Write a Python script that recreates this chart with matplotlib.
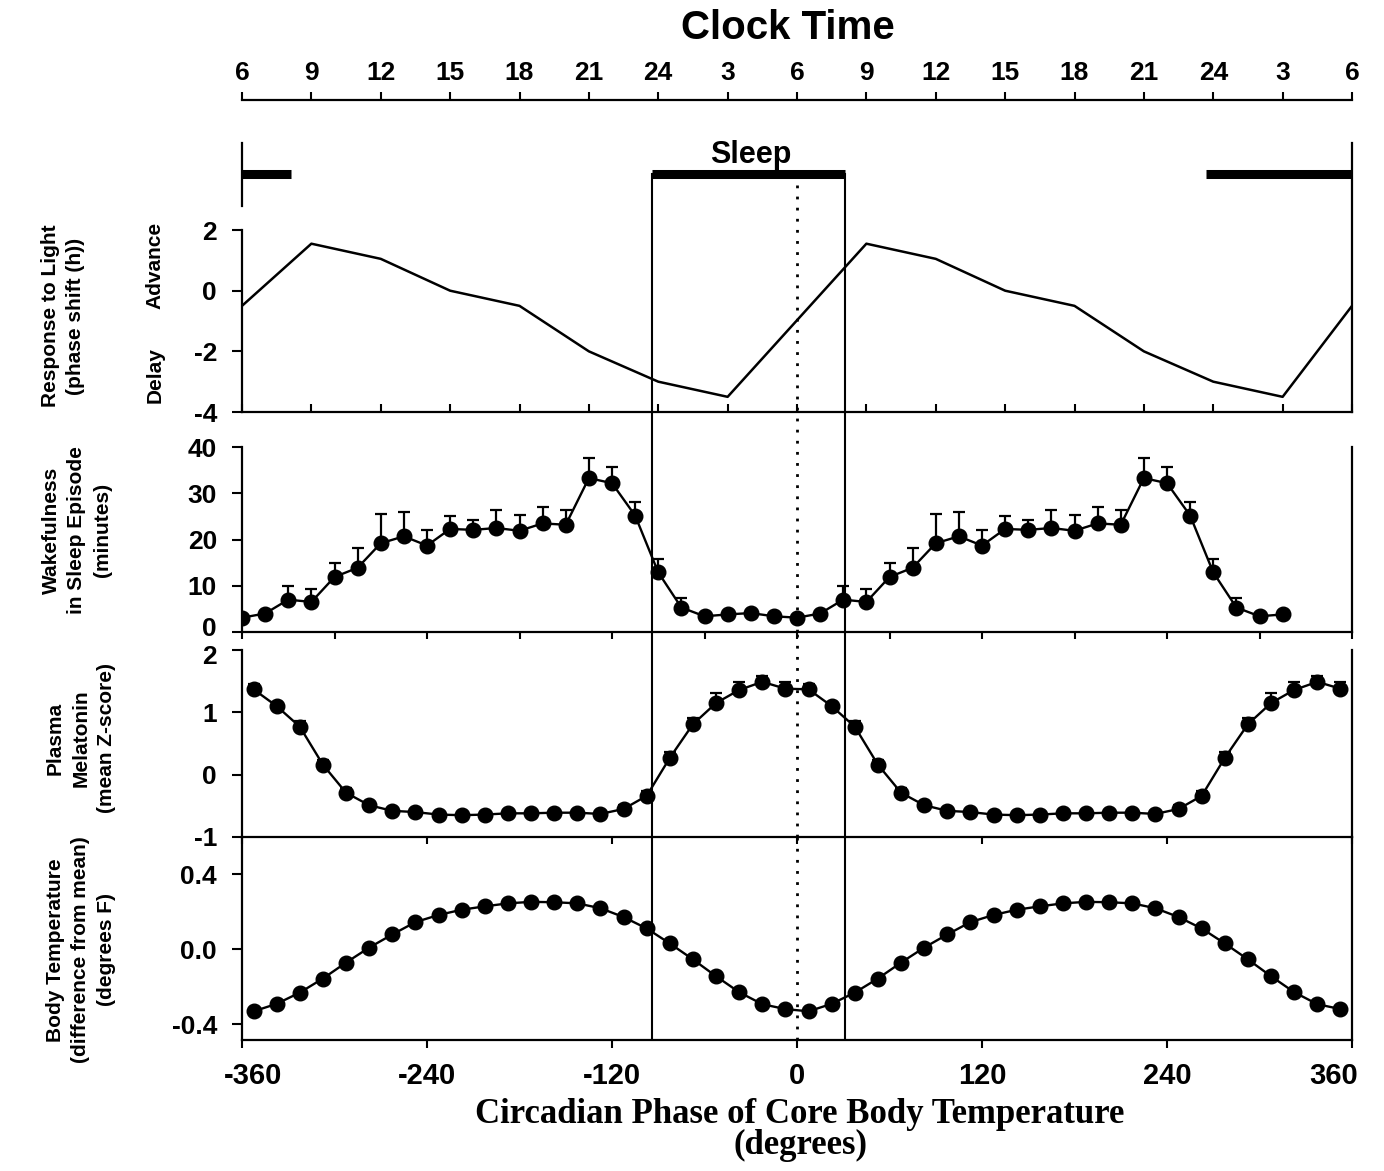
import matplotlib.pyplot as plt
from matplotlib.transforms import ScaledTranslation

# ---- data ----
# response to light (phase shift, h); vertices every 45 deg, double plotted
prc_phase = [-360, -315, -270, -225, -180, -135, -90, -45,
             45, 90, 135, 180, 225, 270, 315, 360]
prc_shift = [-0.5, 1.55, 1.05, 0.0, -0.5, -2.0, -3.0, -3.5,
             1.55, 1.05, 0.0, -0.5, -2.0, -3.0, -3.5, -0.5]

# wakefulness in sleep episode (minutes), one cycle, 15 deg bins
wake_phase = [-360, -345, -330, -315, -300, -285, -270, -255, -240, -225, -210, -195,
              -180, -165, -150, -135, -120, -105, -90, -75, -60, -45, -30, -15]
wake_min = [3.1, 4.0, 7.0, 6.5, 11.9, 13.9, 19.2, 20.7, 18.7, 22.3, 22.1, 22.5,
            21.9, 23.5, 23.2, 33.3, 32.2, 25.2, 12.9, 5.3, 3.4, 3.8, 4.1, 3.4]
wake_err = [0.0, 0.0, 2.9, 2.7, 3.1, 4.3, 6.3, 5.2, 3.4, 2.9, 2.2, 4.0,
            3.5, 3.6, 3.1, 4.3, 3.6, 2.9, 2.9, 2.0, 0.4, 0.4, 0.4, 0.4]
wake_second_n = 22  # second cycle stops at 315 deg

# plasma melatonin (mean z-score), one cycle
mel_phase = [-352.5, -337.5, -322.5, -307.5, -292.5, -277.5, -262.5, -247.5,
             -232.5, -217.5, -202.5, -187.5, -172.5, -157.5, -142.5, -127.5,
             -112.5, -97.5, -82.5, -67.5, -52.5, -37.5, -22.5, -7.5]
mel_z = [1.37, 1.10, 0.77, 0.16, -0.29, -0.49, -0.58, -0.60, -0.64, -0.65, -0.64, -0.62,
         -0.62, -0.61, -0.61, -0.63, -0.55, -0.34, 0.27, 0.81, 1.15, 1.36, 1.49, 1.38]
mel_err = [0.08, 0.07, 0.09, 0.07, 0.07, 0.03, 0.03, 0.03, 0.03, 0.03, 0.03, 0.03,
           0.03, 0.03, 0.03, 0.03, 0.06, 0.08, 0.10, 0.10, 0.16, 0.12, 0.10, 0.10]

# body temperature (difference from mean, deg F), one cycle
temp_phase = mel_phase
temp_f = [-0.33, -0.29, -0.23, -0.155, -0.07, 0.01, 0.08, 0.146, 0.184, 0.212, 0.23, 0.246,
          0.254, 0.252, 0.246, 0.22, 0.173, 0.112, 0.032, -0.053, -0.143, -0.228, -0.292, -0.318]

clock_labels = ["6", "9", "12", "15", "18", "21", "24", "3", "6",
                "9", "12", "15", "18", "21", "24", "3", "6"]
sleep_start, sleep_end = -94, 31


def double(xs, ys, n2=None):
    n2 = len(xs) if n2 is None else n2
    return list(xs) + [x + 360 for x in xs[:n2]], list(ys) + list(ys[:n2])


plt.rcParams['font.family'] = ['Liberation Sans', 'DejaVu Sans']
plt.rcParams['axes.unicode_minus'] = False
label_font = dict(family=['Liberation Sans', 'DejaVu Sans'], weight='bold', size=15)

fig = plt.figure(figsize=(13.84, 11.71), dpi=100)
L, W = 242 / 1384, 1110 / 1384


def fy(px):
    return 1 - px / 1171


def shift(label, dx_px, dy_px):
    label.set_transform(label.get_transform() +
                        ScaledTranslation(dx_px / 100, dy_px / 100, fig.dpi_scale_trans))


def panel(top, bottom):
    ax = fig.add_axes([L, fy(bottom), W, fy(top) - fy(bottom)])
    ax.set_xlim(-360, 360)
    ax.spines['top'].set_visible(False)
    for s in ax.spines.values():
        s.set_linewidth(1.6)
    ax.tick_params(axis='y', direction='out', length=7, width=1.5, pad=11, labelsize=19)
    ax.tick_params(axis='x', width=1.5)
    ax.patch.set_alpha(0)
    return ax


def bold_labels(ax):
    for t in ax.get_xticklabels() + ax.get_yticklabels():
        t.set_fontweight('bold')


ax1 = panel(143, 412)
ax2 = panel(412, 632)
ax3 = panel(632, 837)
ax4 = panel(837, 1040)

# panel 1: response to light
ax1.set_ylim(-4, 4.87)
ax1.set_yticks([-4, -2, 0, 2])
ax1.spines['left'].set_bounds(-4, 2)
ax1.plot(prc_phase, prc_shift, color='k', lw=1.8)
ax1.set_xticks(range(-360, 361, 45))
ax1.tick_params(axis='x', direction='in', length=6, labelbottom=False)
ax1.plot([-360, -360], [2.79, 4.87], color='k', lw=1.6, clip_on=False)
bar_y = 3.85
for a, b in [(-360, -328), (sleep_start, sleep_end), (265, 360)]:
    ax1.plot([a, b], [bar_y, bar_y], color='k', lw=6.5, solid_capstyle='butt', clip_on=False)
ax1.text(-30, 4.47, "Sleep", ha='center', va='center', fontsize=22, fontweight='bold')
ax1.plot([sleep_start, sleep_start], [bar_y, -4], color='k', lw=1.5)
ax1.plot([sleep_end, sleep_end], [bar_y, -4], color='k', lw=1.5)
ax1.plot([0, 0], [3.5, -4], color='k', lw=2, ls=(0, (1, 3)))

# panel 2: wakefulness
wx, wy = double(wake_phase, wake_min, wake_second_n)
_, we = double(wake_phase, wake_err, wake_second_n)
ax2.set_ylim(0, 47.6)
ax2.set_yticks([0, 10, 20, 30, 40])
ax2.spines['left'].set_bounds(0, 40)
ax2.spines['right'].set_bounds(0, 40)
ax2.errorbar(wx, wy, yerr=[[0] * len(we), we], fmt='none', ecolor='k',
             elinewidth=1.6, capsize=4.5, capthick=1.6, zorder=2)
ax2.plot(wx, wy, 'o-', color='k', lw=1.7, ms=10.5, zorder=3)
ax2.set_xticks(range(-360, 361, 60))
ax2.tick_params(axis='x', direction='out', length=5, labelbottom=False)

# panel 3: melatonin
mx, my = double(mel_phase, mel_z)
_, me = double(mel_phase, mel_err)
ax3.set_ylim(-1, 2.29)
ax3.set_yticks([-1, 0, 1, 2])
ax3.spines['left'].set_bounds(-1, 2)
ax3.spines['right'].set_bounds(-1, 2)
ax3.errorbar(mx, my, yerr=[[0] * len(me), me], fmt='none', ecolor='k',
             elinewidth=1.6, capsize=4.5, capthick=1.6, zorder=2)
ax3.plot(mx, my, 'o-', color='k', lw=1.7, ms=10.5, zorder=3)
ax3.set_xticks(range(-360, 361, 120))
ax3.tick_params(axis='x', direction='out', length=5, labelbottom=False)

# panel 4: body temperature
tx, ty = double(temp_phase, temp_f)
ax4.set_ylim(-0.483, 0.6)
ax4.set_yticks([-0.4, 0.0, 0.4])
ax4.set_yticklabels(["-0.4", "0.0", "0.4"])
ax4.plot(tx, ty, 'o-', color='k', lw=1.7, ms=10.5, zorder=3)
ax4.set_xticks(range(-360, 361, 120))
ax4.tick_params(axis='x', direction='out', length=6, pad=10, labelsize=21)

for ax in (ax1, ax2, ax3, ax4):
    bold_labels(ax)
for ax in (ax2, ax3, ax4):
    ax.axvline(sleep_start, color='k', lw=1.5)
    ax.axvline(sleep_end, color='k', lw=1.5)
    ax.axvline(0, color='k', lw=2, ls=(0, (1, 3)))

# small nudges so neighbouring tick labels sit as in the original
shift(ax2.get_yticklabels()[0], 0, 5)
shift(ax3.get_yticklabels()[-1], 0, -4)
shift(ax4.get_xticklabels()[0], 11, 0)
shift(ax4.get_xticklabels()[-1], -18, 0)

# clock time axis on top
axc = fig.add_axes([L, fy(101), W, 0.001])
axc.set_xlim(-360, 360)
for s in ('left', 'right', 'bottom'):
    axc.spines[s].set_visible(False)
axc.spines['top'].set_linewidth(1.6)
axc.patch.set_alpha(0)
axc.set_yticks([])
axc.xaxis.set_ticks_position('top')
axc.set_xticks(range(-360, 361, 45))
axc.set_xticklabels(clock_labels, fontsize=19, fontweight='bold')
axc.tick_params(axis='x', direction='out', length=6, width=1.5, pad=5)
fig.text(788 / 1384, fy(28), "Clock Time", ha='center', va='center',
         fontsize=29, fontweight='bold')

# axis titles
fig.text(800 / 1384, fy(1130), "Circadian Phase of Core Body Temperature\n(degrees)",
         ha='center', va='center', fontsize=25, fontweight='bold',
         family='Liberation Serif', linespacing=0.95)

fig.text(63 / 1384, fy(316), "Response to Light\n(phase shift (h))", rotation=90,
         ha='center', va='center', linespacing=1.45, **label_font)
fig.text(155 / 1384, fy(265), "Advance", rotation=90, ha='center', va='center', **label_font)
fig.text(155 / 1384, fy(375), "Delay", rotation=90, ha='center', va='center', **label_font)
fig.text(77 / 1384, fy(530), "Wakefulness\nin Sleep Episode\n(minutes)", rotation=90,
         ha='center', va='center', linespacing=1.45, **label_font)
fig.text(81 / 1384, fy(738), "Plasma\nMelatonin\n(mean Z-score)", rotation=90,
         ha='center', va='center', linespacing=1.45, **label_font)
fig.text(81 / 1384, fy(950), "Body Temperature\n(difference from mean)\n(degrees F)",
         rotation=90, ha='center', va='center', linespacing=1.45, **label_font)

fig.savefig("out.png", dpi=100)
